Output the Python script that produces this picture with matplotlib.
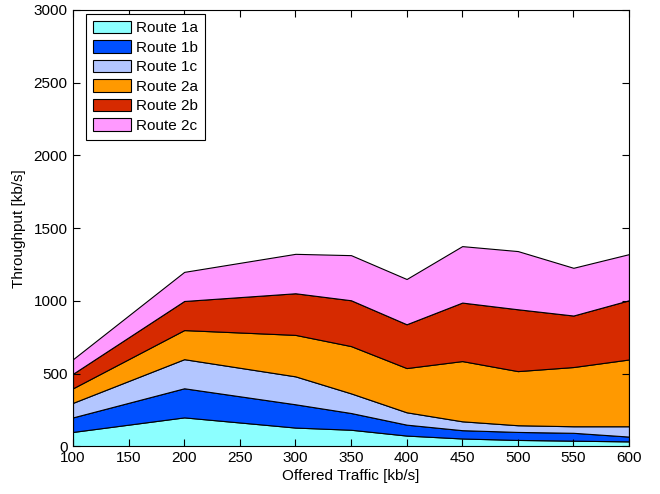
import matplotlib
matplotlib.use("Agg")
import matplotlib.pyplot as plt

plt.rcParams['font.family'] = ['Liberation Sans', 'DejaVu Sans']

offered = [100, 200, 300, 350, 400, 450, 500, 550, 600]

route_1a = [100, 200, 130, 115, 75, 55, 45, 40, 35]
route_1b = [100, 200, 160, 115, 75, 57, 55, 54, 33]
route_1c = [100, 200, 192, 135, 85, 61, 46, 45, 71]
route_2a = [100, 200, 285, 325, 304, 414, 372, 407, 459]
route_2b = [100, 200, 286, 315, 301, 402, 425, 354, 407]
route_2c = [100, 200, 271, 310, 311, 388, 400, 328, 317]

labels = ["Route 1a", "Route 1b", "Route 1c", "Route 2a", "Route 2b", "Route 2c"]
colors = ["#8CFFFF", "#0050FF", "#B3C6FF", "#FF9900", "#D62A00", "#FF99FF"]

fig = plt.figure(figsize=(6.6, 4.94), dpi=100)
ax = fig.add_axes([0.1106, 0.0962, 0.8424, 0.8836])

polys = ax.stackplot(offered, route_1a, route_1b, route_1c, route_2a, route_2b, route_2c,
                     labels=labels, colors=colors, edgecolor='black', linewidth=0.8)

ax.set_xlim(100, 600)
ax.set_ylim(0, 3000)
ax.set_xticks(range(100, 601, 50))
ax.set_yticks(range(0, 3001, 500))
ax.tick_params(direction='in', top=True, right=True, labelsize=11, length=5)
ax.tick_params(axis='y', pad=4)
ax.tick_params(axis='x', pad=3)
ax.set_xlabel("Offered Traffic [kb/s]", fontsize=11, labelpad=3)
ax.set_ylabel("Throughput [kb/s]", fontsize=11, labelpad=5)

leg = ax.legend(loc='upper left', bbox_to_anchor=(0.023, 0.991), fontsize=11,
                fancybox=False, framealpha=1, edgecolor='black', borderaxespad=0,
                handlelength=2.5, handleheight=0.9, labelspacing=0.32,
                borderpad=0.45, handletextpad=0.35)
leg.get_frame().set_linewidth(0.8)

fig.savefig("out.png", dpi=100)
